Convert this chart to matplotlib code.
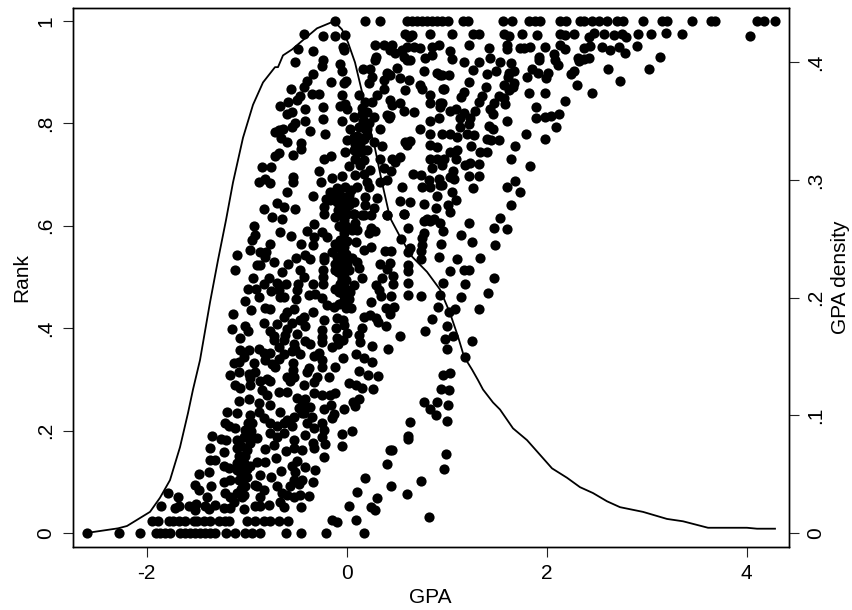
import matplotlib

matplotlib.use("Agg")

import matplotlib.pyplot as plt
import numpy as np

plt.rcParams["font.family"] = ["Liberation Sans", "DejaVu Sans"]
plt.rcParams["axes.unicode_minus"] = False

# students with (GPA, rank), grouped by part of the cloud
rank_zero_gpa = [-2.60, -2.28, -2.07, -1.91, -1.87, -1.82, -1.77, -1.67, -1.62, -1.57, -1.52, -1.47, -1.42, -1.37,
                 -1.32, -1.21, -1.12, -1.02, -0.95, -0.87, -0.61, -0.46, -0.21, 0.17]
rank_low_gpa = [-1.95, -1.89, -1.78, -1.74, -1.68, -1.62, -1.53, -1.50, -1.43, -1.37, -1.28, -1.22, -1.18, -1.00,
                -0.92, -0.83, -0.77, -0.68, -0.59]
rank_one_gpa = [-0.12, 0.18, 0.33, 0.60, 0.65, 0.70, 0.75, 0.80, 0.85, 0.90, 0.95, 1.01, 1.16, 1.21, 1.56, 1.65,
                1.82, 1.88, 1.93, 2.13, 2.19, 2.33, 2.37, 2.45, 2.52, 2.60, 2.70, 2.76, 2.96, 3.15, 3.20, 3.45,
                3.64, 3.68, 4.10, 4.17, 4.28]

lower_cloud = [
    (-1.79, .079), (-1.69, .071), (-1.86, .053), (-1.72, .048), (-1.68, .052), (-1.58, .052), (-1.51, .057),
    (-1.52, .045), (-1.42, .052), (-1.32, .055), (-1.38, .046), (-1.23, .048), (-1.17, .048), (-1.13, .061),
    (-1.03, .046), (-.92, .053), (-.87, .052), (-.78, .054), (-.67, .061), (-.63, .050), (-.46, .050), (-.87, .071),
    (-.83, .083), (-1.52, .094), (-1.48, .084), (-1.40, .071), (-1.48, .115), (-1.38, .119), (-1.36, .092),
    (-1.23, .100), (-1.17, .104), (-1.22, .078), (-1.17, .071), (-1.10, .078), (-1.03, .074), (-1.08, .104),
    (-1.10, .123), (-1.02, .091), (-.90, .091), (-.87, .113), (-.92, .094), (-.76, .110), (-.66, .122), (-.70, .092),
    (-.65, .078), (-.60, .074), (-.53, .071), (-.47, .074), (-.38, .072), (-.34, .099), (-.53, .104), (-.45, .104),
    (-.55, .130), (-.42, .128), (-.32, .123), (-.57, .091), (-1.10, .136), (-1.03, .136), (-1.23, .131), (-1.18, .126),
    (-.97, .130), (-.90, .139), (-.82, .138), (-1.37, .143), (-1.32, .143), (-1.37, .166), (-1.23, .159), (-1.10, .166),
    (-1.00, .162), (-1.02, .151), (-.82, .164), (-.71, .146), (-.61, .160), (-.53, .166), (-.45, .162), (-.33, .166),
    (-1.35, .190), (-1.26, .183), (-1.21, .182), (-1.10, .182), (-1.03, .188), (-.97, .192), (-.90, .185), (-.77, .195),
    (-.70, .188), (-.73, .172), (-.63, .195), (-.53, .182), (-.42, .192), (-.33, .205), (-.34, .175), (-1.22, .214),
    (-1.18, .208), (-1.12, .205), (-1.02, .201), (-.95, .214), (-.83, .224), (-.77, .214), (-.70, .208), (-.63, .214),
    (-.55, .208), (-1.20, .237), (-1.08, .257), (-.98, .261), (-1.10, .234), (-.97, .231), (-.88, .253), (-.88, .237),
    (-.77, .250), (-.67, .237), (-.60, .221), (-.53, .227), (-.43, .234), (-.37, .247), (-.35, .227), (-.45, .257),
    (-.50, .263), (-.33, .273), (-.68, .276), (-.60, .276), (-.85, .279), (-.80, .270), (-1.12, .289), (-1.07, .283),
    (-.97, .289), (-.87, .296), (-.77, .296), (-.57, .297), (-.43, .289), (-.33, .294),
]

lower_right = [
    (.02, .292), (.09, .290), (.15, .284), (.26, .282), (.94, .281), (1.02, .280), (.77, .255), (.90, .256), (1.01, .250),
    (.83, .242), (.89, .230), (1.00, .218), (.12, .261), (.06, .256), (.08, .248), (-.03, .243), (-.12, .274), (-.17, .269),
    (-.25, .269), (-.16, .250), (-.23, .243), (-.13, .233), (-.15, .224), (.63, .216), (.61, .190), (.61, .183), (.05, .199),
    (-.05, .194), (-.05, .170), (.45, .162), (.43, .162), (-.22, .173), (-.23, .149), (-.25, .214), (-.23, .201), (-.25, .188),
    (.99, .155), (.97, .124), (.40, .134), (.18, .108), (.74, .101), (.44, .092), (.10, .080), (.60, .076), (.30, .069),
    (.02, .053), (.24, .051), (.28, .045), (-.15, .026), (-.10, .022), (.09, .025), (.82, .031),
]

middle_left = [
    (-.93, .600), (-.67, .588), (-.56, .580), (-.40, .590), (-.33, .604), (-.25, .588), (-.20, .578), (-.33, .578),
    (-.34, .562), (-.95, .572), (-.92, .582), (-.77, .564), (-.46, .564), (-.97, .552), (-1.10, .543), (-.87, .548),
    (-.81, .549), (-.82, .539), (-.73, .530), (-.90, .524), (-.87, .524), (-.59, .526), (-.51, .538), (-.42, .543),
    (-.37, .535), (-.23, .539), (-.15, .549), (-.12, .565), (-.23, .533), (-1.12, .513), (-.65, .510), (-.47, .513),
    (-.43, .500), (-.24, .513), (-.24, .500), (-.24, .487), (-.34, .486), (-.12, .526), (-.12, .513), (-.10, .539),
    (-.94, .499), (-.78, .499), (-.83, .487), (-.70, .489), (-.61, .486), (-.49, .487), (-.50, .474), (-.99, .476),
    (-.91, .476), (-.76, .473), (-.88, .461), (-.68, .474), (-.67, .461), (-.63, .461), (-.51, .458), (-.38, .464),
    (-.32, .466), (-.25, .459), (-.12, .476), (-1.02, .453), (-.96, .435), (-.82, .440), (-.77, .437), (-1.14, .427),
    (-.60, .432), (-.53, .438), (-.63, .421), (-.34, .432), (-.20, .445), (-.13, .442), (-.08, .448), (-.23, .416),
    (-.43, .422), (-.47, .416), (-.42, .404), (-.83, .410), (-.70, .408), (-.55, .411), (-.60, .399), (-1.15, .399),
    (-1.02, .404), (-.99, .394), (-1.07, .381), (-.77, .395), (-.73, .385), (-.73, .377), (-.62, .386), (-.63, .377),
    (-.50, .388), (-.25, .396), (-.25, .383), (-.10, .380), (-.15, .364), (-.42, .375), (-.37, .370), (-.53, .370),
    (-.52, .360), (-.47, .349), (-.88, .360), (-.83, .351), (-.68, .364), (-.77, .351), (-.63, .349), (-1.07, .357),
    (-.98, .358), (-1.03, .343), (-1.13, .332), (-1.08, .334), (-.93, .332), (-.82, .338), (-.72, .325), (-.54, .332),
    (-.54, .318), (-.33, .345), (-.28, .351), (-.25, .373), (-.25, .338), (-.25, .325), (-.12, .325), (-.38, .323),
    (-.40, .315), (-1.17, .308), (-1.08, .315), (-.98, .311), (-.92, .315), (-.97, .302), (-.80, .300), (-.60, .305),
    (-.53, .305), (-.30, .305), (-.18, .305), (-.07, .572), (-.07, .556), (-.05, .539), (-.07, .526), (-.05, .500),
    (-.07, .487),
]

middle_right = [
    (1.22, .605), (1.47, .595), (1.60, .593), (1.14, .582), (1.25, .568), (1.48, .563), (1.33, .538), (1.10, .535),
    (.92, .539), (.94, .565), (.96, .590), (.93, .605), (.77, .610), (.83, .610), (.61, .595), (.77, .585), (.75, .576),
    (.75, .563), (.74, .550), (.74, .535), (.54, .574), (.63, .556), (.61, .548), (.61, .524), (.61, .511), (.61, .488),
    (.61, .465), (.74, .462), (.93, .465), (.96, .489), (1.03, .512), (1.17, .514), (1.22, .514), (1.18, .486), (1.47, .499),
    (1.41, .468), (1.14, .460), (.91, .442), (1.08, .437), (1.02, .432), (1.32, .438), (.85, .418), (1.00, .405), (.78, .395),
    (1.06, .385), (.98, .378), (1.25, .375), (1.00, .359), (1.18, .344), (1.03, .313), (.96, .309), (.40, .621), (.57, .624),
    (.15, .621), (.24, .621), (.08, .605), (.10, .592), (.24, .595), (.22, .585), (.28, .589), (.09, .568), (.24, .559),
    (.17, .552), (.38, .550), (.44, .550), (.33, .525), (.43, .528), (.40, .515), (.05, .537), (.10, .530), (.12, .517),
    (.02, .514), (.15, .499), (.35, .499), (.46, .501), (.46, .486), (.29, .484), (.32, .475), (.34, .463), (.44, .463),
    (.07, .484), (.03, .471), (.02, .458), (.24, .452), (.04, .440), (.39, .439), (.47, .442), (.43, .428), (.17, .421),
    (.23, .426), (.29, .419), (.31, .413), (.39, .404), (.15, .400), (.12, .387), (.13, .374), (.00, .390), (-.04, .376),
    (.53, .385), (.25, .366), (.41, .359), (.09, .350), (.17, .341), (.25, .333), (-.04, .341), (.12, .317), (.21, .309),
    (.31, .307), (-.03, .611), (-.05, .598), (-.03, .585), (-.05, .572), (-.03, .559), (-.05, .546), (-.03, .533),
    (-.05, .520), (-.03, .507), (-.05, .494), (-.03, .481), (-.05, .468), (-.03, .455), (-.04, .416), (-.03, .406),
    (.07, .624), (.00, .624), (.05, .592),
]

upper_left = [
    (-.43, .974), (-.24, .970), (-.12, .970), (-.02, .972), (.58, .974), (.62, .969), (.65, .972), (.83, .974), (-.49, .946),
    (-.34, .941), (-.04, .950), (-.03, .943), (.28, .953), (.37, .953), (.45, .953), (.43, .943), (.55, .943), (.60, .950),
    (.67, .950), (.73, .948), (.85, .950), (.92, .953), (.48, .937), (-.52, .920), (-.24, .924), (-.25, .912), (-.07, .917),
    (-.05, .903), (.29, .930), (.28, .924), (.60, .924), (.57, .930), (.63, .924), (.78, .927), (.85, .933), (.16, .907),
    (.23, .907), (.50, .909), (.77, .902), (.90, .898), (.93, .894), (-.34, .896), (-.40, .883), (-.43, .871), (-.16, .881),
    (-.01, .883), (-.03, .878), (-.56, .868), (.25, .891), (.22, .878), (.40, .898), (.43, .894), (.37, .884), (.53, .889),
    (.62, .884), (.58, .865), (.73, .875), (.75, .868), (.96, .868), (-.47, .854), (-.50, .845), (-.35, .857), (-.28, .857),
    (-.05, .856), (-.67, .834), (-.59, .842), (-.24, .832), (-.07, .834), (-.02, .837), (.00, .828), (-.42, .828), (-.55, .823),
    (-.60, .819), (.18, .842), (.25, .842), (.30, .855), (.37, .868), (.43, .845), (.53, .839), (.45, .836), (.57, .824),
    (.67, .823), (.83, .855), (.83, .839), (.93, .839), (.93, .832), (.07, .813), (.15, .819), (.20, .823), (.27, .813),
    (.40, .816), (.43, .815), (.42, .810), (.83, .805), (.92, .810), (-.24, .808), (-.42, .805), (-.52, .800), (-.55, .793),
    (-.05, .804), (.03, .790), (.12, .793), (.20, .790), (.33, .789), (-.68, .787), (-.72, .784), (-.64, .790), (-.37, .785),
    (-.66, .771), (-.60, .764), (-.22, .780), (.00, .767), (.07, .774), (.13, .771), (.20, .777), (.27, .764), (.13, .758),
    (.20, .748), (.73, .789), (.83, .780), (.58, .763), (.63, .765), (.60, .758), (.83, .758), (.90, .754), (.35, .756),
    (-.46, .762), (-.46, .750), (-.68, .743), (-.72, .737), (-.54, .738), (-.02, .745), (.07, .748), (-.23, .731), (-.16, .737),
    (.08, .731), (.17, .728), (.02, .717), (.13, .718), (.33, .730), (.45, .730), (.53, .735), (.48, .725), (.83, .730),
    (.90, .730), (.85, .712), (-.85, .714), (-.76, .714), (-.28, .707), (.23, .709), (.17, .702), (.08, .699), (.37, .712),
    (.44, .707), (.66, .702), (.74, .699), (-.54, .696), (-.54, .686), (-.88, .686), (-.82, .691), (-.77, .683), (-.26, .685),
    (-.15, .694), (-.05, .697), (.33, .685), (.40, .689), (.20, .686), (.22, .676), (.55, .675), (.75, .675), (.83, .676),
    (.82, .689), (.92, .692), (.93, .679), (-.60, .666), (-.34, .658), (-.17, .666), (-.10, .673), (-.02, .676), (.10, .676),
    (-.07, .660), (.02, .660), (-.17, .650), (-.10, .647), (-.02, .647), (.07, .647), (.18, .657), (.30, .655), (-.21, .653),
    (.53, .649), (.63, .646), (.77, .642), (.90, .658), (.89, .634), (-.83, .632), (-.70, .644), (-.63, .637), (-.52, .632),
    (-.23, .637), (.18, .640), (.27, .635), (-.23, .624), (-.02, .633), (.07, .624), (.17, .622), (.40, .621), (.57, .624),
    (.80, .614), (.87, .614), (-.75, .618), (-.65, .614), (-.12, .618),
]

upper_right = [
    (1.05, .974), (1.26, .974), (1.32, .974), (1.57, .974), (1.62, .971), (1.75, .974), (1.90, .972), (2.13, .974), (2.18, .973),
    (2.27, .974), (2.47, .976), (2.42, .968), (2.57, .974), (2.67, .973), (2.75, .974), (2.79, .968), (2.91, .974), (3.04, .974),
    (3.19, .976), (3.35, .974), (4.03, .971), (1.03, .941), (1.22, .954), (1.42, .948), (1.60, .953), (1.60, .945), (1.73, .948),
    (1.77, .948), (1.83, .950), (1.98, .950), (2.13, .954), (2.18, .945), (2.37, .948), (2.43, .952), (2.55, .949), (2.63, .944),
    (2.72, .950), (2.90, .951), (2.78, .937), (1.05, .926), (1.17, .920), (1.32, .920), (1.43, .928), (1.53, .920), (1.64, .918),
    (1.92, .930), (1.92, .924), (2.07, .935), (2.08, .924), (2.11, .915), (2.31, .928), (2.32, .922), (2.37, .926), (2.42, .928),
    (3.13, .930), (3.02, .907), (2.61, .906), (2.73, .883), (1.85, .907), (1.91, .898), (2.01, .898), (1.99, .889), (1.80, .891),
    (2.27, .903), (2.24, .896), (2.30, .875), (2.45, .860), (1.98, .860), (1.82, .860), (1.26, .904), (1.40, .896), (1.49, .902),
    (1.62, .898), (1.67, .903), (1.61, .891), (1.02, .894), (.95, .894), (1.22, .880), (1.39, .871), (1.57, .875), (1.67, .878),
    (1.62, .865), (1.66, .871), (.97, .868), (1.17, .862), (1.14, .852), (1.35, .854), (1.32, .842), (1.52, .854), (1.57, .849),
    (1.58, .837), (2.18, .844), (1.89, .832), (1.47, .839), (1.43, .829), (1.46, .819), (1.28, .824), (1.09, .829), (1.03, .824),
    (.95, .839), (1.17, .821), (1.13, .810), (1.23, .810), (1.22, .798), (1.89, .810), (1.98, .813), (2.04, .814), (2.12, .819),
    (1.60, .805), (2.09, .793), (1.42, .795), (1.46, .790), (1.79, .780), (1.98, .769), (1.13, .793), (.95, .780), (1.03, .780),
    (1.10, .774), (1.20, .780), (1.27, .778), (1.40, .769), (1.44, .767), (1.52, .767), (1.24, .756), (1.68, .756), (1.10, .749),
    (1.03, .745), (1.33, .744), (1.40, .744), (1.64, .730), (.97, .731), (1.09, .731), (.95, .718), (1.18, .718), (1.23, .722),
    (1.32, .720), (1.83, .717), (1.06, .707), (1.03, .696), (1.07, .691), (1.22, .698), (1.32, .698), (.95, .679), (1.68, .688),
    (1.60, .675), (1.73, .666), (1.26, .674), (1.05, .666), (1.09, .650), (1.64, .640), (1.01, .640), (1.03, .626), (1.53, .616),
]

# the solid black blobs, where single dots can't be told apart
dense_spots = [
    (-1.05, .070), (-1.06, .085), (-1.05, .100), (-1.06, .115), (-1.04, .130), (-1.05, .150), (-1.06, .170),
    (-.97, .175), (-.95, .185), (-.96, .200), (-.99, .215), (-1.00, .110), (-1.00, .125), (-1.08, .150),
    (-.43, .245), (-.45, .235), (-.42, .262), (-.48, .245), (-.40, .215), (-.50, .140), (-.52, .120), (-.48, .095),
    (.17, .770), (.18, .790), (.16, .805), (.15, .830), (.12, .855), (.10, .775), (.08, .760), (.22, .800), (.14, .745),
    (-.06, .640), (-.04, .655), (-.08, .670), (-.03, .620), (.02, .640), (.04, .670), (-.09, .630), (-.13, .660),
    (-.01, .600), (.00, .570), (-.01, .545), (.00, .525), (-.01, .495), (.00, .475), (-.01, .440), (-.08, .600),
    (-.09, .510), (-.08, .470), (-.10, .420), (-.11, .400), (-.09, .370), (-.55, .355), (-.68, .340), (-.75, .330),
]

# kernel density of GPA, right axis
density_gpa = [-2.607, -2.287, -2.197, -1.967, -1.867, -1.767, -1.667, -1.587, -1.537, -1.467, -1.367, -1.287, -1.207,
               -1.137, -1.037, -.937, -.837, -.717, -.687, -.637, -.547, -.437, -.297, -.127, -.047, .013, .083, .153,
               .203, .283, .353, .433, .533, .653, .803, .933, 1.033, 1.113, 1.173, 1.253, 1.313, 1.363, 1.463, 1.533,
               1.663, 1.803, 2.053, 2.203, 2.333, 2.463, 2.603, 2.733, 2.963, 3.203, 3.363, 3.613, 4.003, 4.103, 4.283]
density_val = [0, .004, .006, .018, .030, .045, .073, .102, .122, .147, .196, .232, .266, .298, .336, .364, .383, .396,
               .396, .406, .411, .419, .429, .435, .428, .417, .400, .375, .353, .327, .298, .268, .252, .235, .222,
               .207, .187, .167, .150, .139, .130, .122, .111, .105, .089, .079, .055, .047, .039, .034, .027, .022,
               .018, .012, .010, .0045, .0045, .0037, .0037]

x_ticks = [-2, 0, 2, 4]
rank_ticks = [0, .2, .4, .6, .8, 1]
rank_labels = ["0", ".2", ".4", ".6", ".8", "1"]
density_ticks = [0, .1, .2, .3, .4]
density_labels = ["0", ".1", ".2", ".3", ".4"]

pairs = np.array(lower_cloud + lower_right + middle_left + middle_right + upper_left + upper_right + dense_spots)
gpa = np.concatenate([rank_zero_gpa, rank_low_gpa, rank_one_gpa, pairs[:, 0]])
rank = np.concatenate([np.zeros(len(rank_zero_gpa)), np.full(len(rank_low_gpa), .024),
                       np.ones(len(rank_one_gpa)), pairs[:, 1]])

W, H = 852, 610
fig = plt.figure(figsize=(W / 100, H / 100), dpi=100)
ax = fig.add_axes([72.5 / W, 1 - 546.7 / H, 716 / W, 539.2 / H])
ax2 = ax.twinx()

ax.scatter(gpa, rank, s=54, color="black", linewidths=0, zorder=3)
ax2.plot(density_gpa, density_val, color="black", linewidth=1.3, zorder=4)

ax.set_xlim(-2.742, 4.418)
ax.set_ylim(-0.0268, 1.0264)
ax2.set_ylim(-0.0116, 0.4467)

ax.set_xticks(x_ticks)
ax.set_yticks(rank_ticks, rank_labels, rotation=90, va="center")
ax2.set_yticks(density_ticks, density_labels, rotation=90, va="center")

ax.tick_params(axis="both", labelsize=15, length=7, width=0.8, pad=5.5, color="#222222")
ax2.tick_params(axis="y", labelsize=15, length=7, width=0.8, pad=6, color="#222222")
for a in (ax, ax2):
    for spine in a.spines.values():
        spine.set_linewidth(1.0)

ax.set_xlabel("GPA", fontsize=15, labelpad=3.5)
ax.set_ylabel("Rank", fontsize=15, labelpad=3.5)
ax2.set_ylabel("GPA density", fontsize=15, labelpad=4)

fig.savefig("out.png", dpi=100)
